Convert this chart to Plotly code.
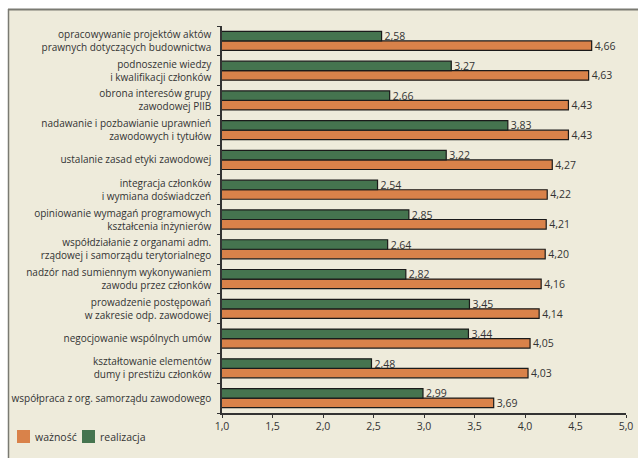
import plotly.graph_objects as go

categories = [
    "opracowywanie projektów aktów<br>prawnych dotyczących budownictwa",
    "podnoszenie wiedzy<br>i kwalifikacji członków",
    "obrona interesów grupy<br>zawodowej PIIB",
    "nadawanie i pozbawianie uprawnień<br>zawodowych i tytułów",
    "ustalanie zasad etyki zawodowej",
    "integracja członków<br>i wymiana doświadczeń",
    "opiniowanie wymagań programowych<br>kształcenia inżynierów",
    "współdziałanie z organami adm.<br>rządowej i samorządu terytorialnego",
    "nadzór nad sumiennym wykonywaniem<br>zawodu przez członków",
    "prowadzenie postępowań<br>w zakresie odp. zawodowej",
    "negocjowanie wspólnych umów",
    "kształtowanie elementów<br>dumy i prestiżu członków",
    "współpraca z org. samorządu zawodowego",
]
waznosc = [4.66, 4.63, 4.43, 4.43, 4.27, 4.22, 4.21, 4.20, 4.16, 4.14, 4.05, 4.03, 3.69]
realizacja = [2.58, 3.27, 2.66, 3.83, 3.22, 2.54, 2.85, 2.64, 2.82, 3.45, 3.44, 2.48, 2.99]
x_ticks = [1.0, 1.5, 2.0, 2.5, 3.0, 3.5, 4.0, 4.5, 5.0]
legend_names = ["ważność", "realizacja"]

ORANGE = "#D9824A"
GREEN = "#45744F"
BEIGE = "#EEEBDB"
FONT = "Open Sans"

fig = go.Figure()
fig.add_trace(go.Bar(
    name=legend_names[0], y=categories, x=waznosc, orientation="h",
    marker=dict(color=ORANGE, line=dict(color="#1a1a1a", width=1.2)),
    texttemplate="%{x:.2f}", textposition="outside", constraintext="none",
    textfont=dict(family=FONT, size=10.5, color="#333333"),
))
fig.add_trace(go.Bar(
    name=legend_names[1], y=categories, x=realizacja, orientation="h",
    marker=dict(color=GREEN, line=dict(color="#1a1a1a", width=1.2)),
    texttemplate="%{x:.2f}", textposition="outside", constraintext="none",
    textfont=dict(family=FONT, size=10.5, color="#333333"),
))

L, R, T, B = 222, 12, 26, 45
W, H = 638, 458
pw, ph = W - L - R, H - T - B

def px(xp):
    return (xp - L) / pw

def py(yp):
    return (H - B - yp) / ph

shapes = [
    dict(type="rect", xref="paper", yref="paper", x0=px(8), x1=px(W),
         y0=py(H), y1=py(9), fillcolor=BEIGE, line=dict(width=0), layer="below"),
    dict(type="line", xref="paper", yref="paper", x0=px(8), x1=px(W),
         y0=py(9.5), y1=py(9.5), line=dict(color="#7a7a72", width=2), layer="below"),
    dict(type="line", xref="paper", yref="paper", x0=px(8.5), x1=px(8.5),
         y0=py(9), y1=py(H), line=dict(color="#7a7a72", width=1.5), layer="below"),
]
annotations = []
leg_x = [17, 82]
for name, col, lx in zip(legend_names, [ORANGE, GREEN], leg_x):
    shapes.append(dict(type="rect", xref="paper", yref="paper",
                       x0=px(lx), x1=px(lx + 13), y0=py(443), y1=py(430),
                       fillcolor=col, line=dict(width=0)))
    annotations.append(dict(xref="paper", yref="paper", x=px(lx + 16), y=py(437),
                            text=name, showarrow=False, xanchor="left", yanchor="middle",
                            font=dict(family=FONT, size=10.5, color="#333333")))

fig.update_layout(
    width=W, height=H,
    margin=dict(l=L, r=R, t=T, b=B, pad=0, autoexpand=False),
    paper_bgcolor="white",
    plot_bgcolor="rgba(0,0,0,0)",
    barmode="group", bargap=0.36, bargroupgap=0.0,
    separators=", ",
    font=dict(family=FONT, size=10, color="#333333"),
    showlegend=False,
    xaxis=dict(range=[1, 5], tickvals=x_ticks, tickformat=".1f", automargin=False,
               showgrid=False, zeroline=False, showline=True,
               linecolor="#333333", linewidth=1.5, ticks="outside", ticklen=3,
               tickcolor="#333333", tickfont=dict(family=FONT, size=10.5, color="#333333")),
    yaxis=dict(categoryorder="array", categoryarray=list(reversed(categories)),
               automargin=False,
               showgrid=False, zeroline=False, showline=True,
               linecolor="#333333", linewidth=1.5, ticks="outside", ticklen=3,
               tickson="boundaries", tickcolor="#333333",
               tickfont=dict(family=FONT, size=10, color="#333333"),
               ticklabelstandoff=7),
    shapes=shapes,
    annotations=annotations,
)

fig.write_html("out.html")
